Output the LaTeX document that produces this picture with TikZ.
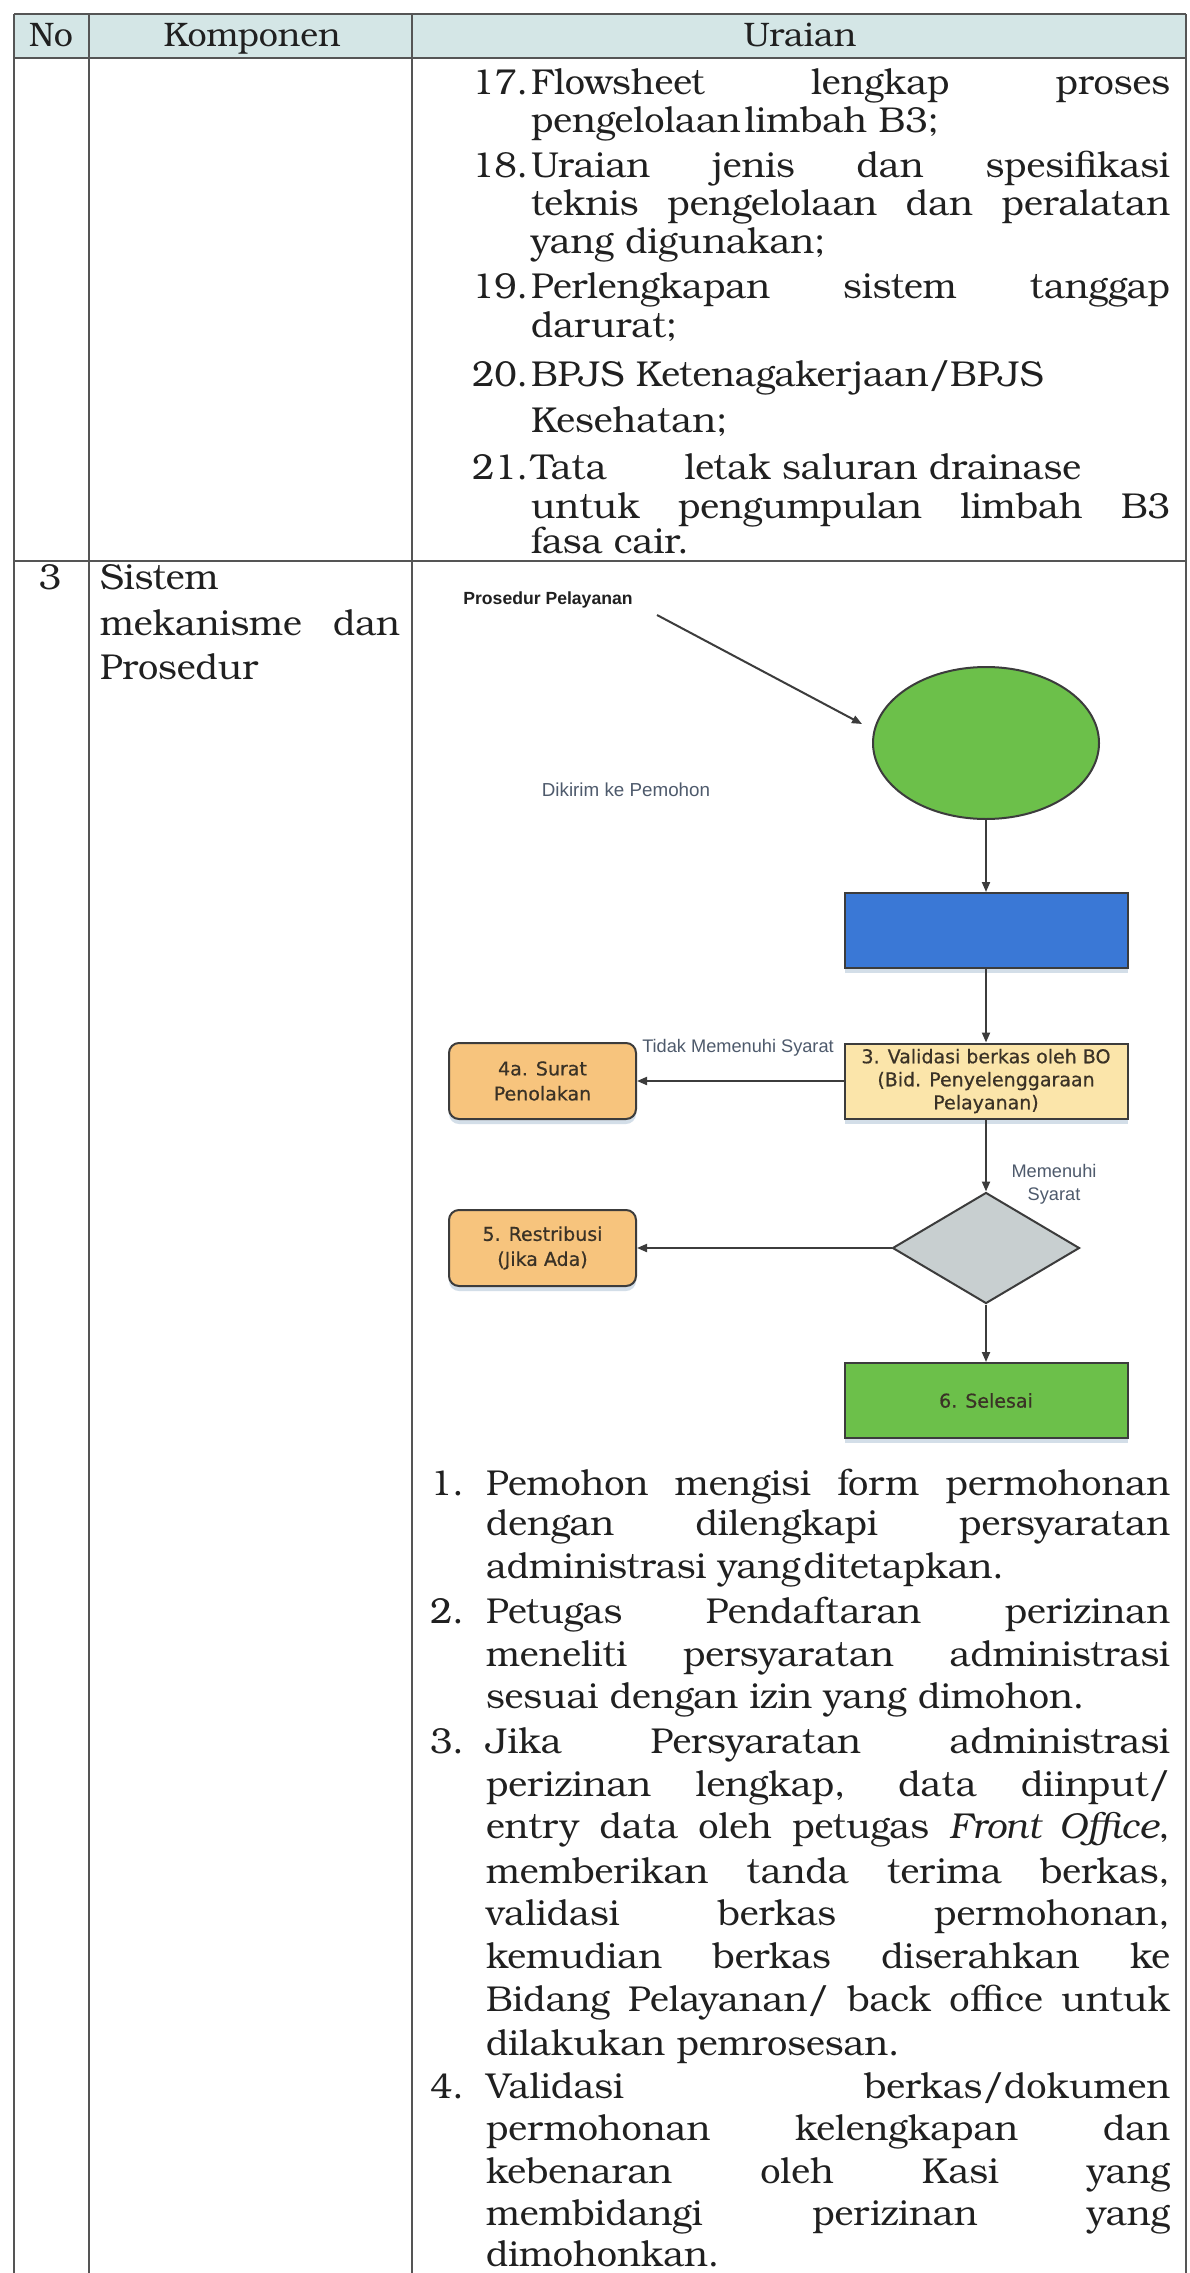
\documentclass[tikz,border=0pt]{standalone}
\usepackage{fontspec}
\setmainfont{texgyrebonum-regular.otf}[BoldFont=texgyrebonum-bold.otf,ItalicFont=texgyrebonum-italic.otf,BoldItalicFont=texgyrebonum-bolditalic.otf]
\newfontfamily\boxfont{DejaVu Sans}[FakeBold=0.6]
\newfontfamily\labfont{Liberation Sans}
\usetikzlibrary{shapes.geometric,arrows.meta,shadows}
\hbadness=10000
\hfuzz=50pt

% one picture unit = one pixel of the page (0.5pt)
\def\pxu{0.5pt}
\newcommand{\jus}[2]{\makebox[\dimexpr#1pt/2\relax][s]{#2}}
\newcommand{\bodysize}{\fontsize{18}{21}\selectfont}

\definecolor{inkc}{RGB}{32,32,32}
\definecolor{tablec}{RGB}{85,85,85}
\definecolor{headc}{RGB}{212,230,230}
\definecolor{edgec}{RGB}{60,60,60}
\definecolor{lgreen}{RGB}{108,192,74}
\definecolor{fblue}{RGB}{58,120,214}
\definecolor{pale}{RGB}{251,229,170}
\definecolor{orng}{RGB}{247,196,125}
\definecolor{dgray}{RGB}{200,207,208}
\definecolor{boxtext}{RGB}{58,50,38}
\definecolor{labc}{RGB}{78,90,108}
\definecolor{shadowc}{RGB}{176,196,214}

\tikzset{
  txt/.style={anchor=base west, inner sep=0, outer sep=0, font=\bodysize, text=inkc},
  hdr/.style={anchor=base, inner sep=0, font=\fontsize{17}{20}\selectfont, text=inkc},
  tline/.style={draw=tablec, line width=0.85pt},
  flow/.style={draw=edgec, line width=1pt, -{Triangle[length=5pt,width=4pt]}},
  shade/.style={drop shadow={shadow xshift=0pt, shadow yshift=-2.5pt, fill=shadowc, opacity=0.55}},
  procbox/.style={rectangle, draw=edgec, line width=1pt, inner sep=0,
    minimum width=283*\pxu, minimum height=75*\pxu, align=center,
    font=\boxfont\fontsize{9.5}{11.5}\selectfont, text=boxtext, shade},
  sidebox/.style={rectangle, rounded corners=5pt, draw=edgec, line width=1pt, inner sep=0,
    minimum width=187*\pxu, minimum height=76*\pxu, align=center, fill=orng,
    font=\boxfont\fontsize{9.5}{12.5}\selectfont, text=boxtext, shade},
  flowlab/.style={inner sep=0, font=\labfont\fontsize{9.1}{11.5}\selectfont, text=labc, align=center}
}

\begin{document}
\begin{tikzpicture}[x=0.5pt, y=-0.5pt]
\useasboundingbox (0,0) rectangle (1189,2273);
\fill[white] (0,0) rectangle (1189,2273);

% ---------- table frame ----------
\fill[headc] (14,14) rectangle (1186,58);
\draw[tline] (14,14) -- (1186,14);
\draw[tline] (14,58) -- (1186,58);
\draw[tline] (14,561) -- (1186,561);
\draw[tline] (14,14) -- (14,2273);
\draw[tline] (89,14) -- (89,2273);
\draw[tline] (412,14) -- (412,2273);
\draw[tline] (1186,14) -- (1186,2273);

\node[hdr] (hno) at (51,47) {No};
\node[hdr] (hkomp) at (252,47) {Komponen};
\node[hdr] (hurai) at (800,47) {Uraian};

% ---------- items 17 - 21 ----------
\node[txt] (n17) at (472,95) {17.};
\node[txt] (l17a) at (531,95) {\jus{639}{Flowsheet lengkap proses}};
\node[txt] (l17b) at (531,133) {pengelolaan\hspace{2pt}limbah B3;};
\node[txt] (n18) at (472,178) {18.};
\node[txt] (l18a) at (531,178) {\jus{639}{Uraian jenis dan spesifikasi}};
\node[txt] (l18b) at (531,216) {\jus{639}{teknis pengelolaan dan peralatan}};
\node[txt] (l18c) at (531,254) {yang digunakan;};
\node[txt] (n19) at (472,299) {19.};
\node[txt] (l19a) at (531,299) {\jus{639}{Perlengkapan sistem tanggap}};
\node[txt] (l19b) at (531,338) {darurat;};
\node[txt] (n20) at (472,387) {20.};
\node[txt] (l20a) at (531,387) {BPJS Ketenagakerjaan/BPJS};
\node[txt] (l20b) at (531,433) {Kesehatan;};
\node[txt] (n21) at (472,480) {21.};
\node[txt] (l21a) at (531,480) {\makebox[\dimexpr550pt/2\relax][s]{Tata\hfill letak saluran drainase}};
\node[txt] (l21b) at (531,518) {\jus{639}{untuk pengumpulan limbah B3}};
\node[txt] (l21c) at (531,553) {fasa cair.};

% ---------- row 3 ----------
\node[txt, anchor=base] (no3) at (50,589) {3};
\node[txt] (k3a) at (100,589) {Sistem};
\node[txt] (k3b) at (100,635) {\jus{300}{mekanisme dan}};
\node[txt] (k3c) at (100,679) {Prosedur};

% ---------- flowchart ----------
\node[inner sep=0, font=\labfont\bfseries\fontsize{8.8}{10}\selectfont, text=inkc] (pp) at (548,600) {Prosedur Pelayanan};
\node[inner sep=0, font=\labfont\fontsize{9.4}{11}\selectfont, text=labc] (dk) at (626,790) {Dikirim ke Pemohon};

\node[ellipse, draw=edgec, fill=lgreen, line width=1pt, inner sep=0,
      minimum width=226*\pxu, minimum height=152*\pxu] (start) at (986,743) {};
\node[procbox, fill=fblue] (reg) at (986,930.5) {};
\node[procbox, fill=pale] (valid) at (986,1081) {3. Validasi berkas oleh BO\\(Bid. Penyelenggaraan\\Pelayanan)};
\node[sidebox] (reject) at (542.5,1081) {4a. Surat\\Penolakan};
\node[diamond, draw=edgec, fill=dgray, line width=1pt, inner sep=0,
      minimum width=187*\pxu, minimum height=111*\pxu] (check) at (986,1248) {};
\node[sidebox] (fee) at (542.5,1248) {5. Restribusi\\(Jika Ada)};
\node[procbox, fill=lgreen] (done) at (986,1400.5) {6. Selesai};

\node[flowlab] (tms) at (738,1048) {Tidak Memenuhi Syarat};
\node[flowlab] (ms) at (1054,1184) {Memenuhi\\Syarat};

\coordinate (ppA) at (657,615);
\coordinate (ppB) at (862,724);
\draw[flow] (ppA) -- (ppB);
\draw[flow] (start.south) -- (reg.north);
\draw[flow] (reg.south) -- (valid.north);
\draw[flow] (valid.west) -- (reject.east);
\draw[flow] (valid.south) -- (check.north);
\draw[flow] (check.west) -- (fee.east);
\draw[flow] (check.south) -- (done.north);

% ---------- steps 1 - 4 ----------
\node[txt] (m1) at (430,1495) {1.};
\node[txt] (p1a) at (486,1495) {\jus{684}{Pemohon mengisi form permohonan}};
\node[txt] (p1b) at (486,1535) {\jus{684}{dengan dilengkapi persyaratan}};
\node[txt] (p1c) at (486,1578) {administrasi yang\hspace{1.5pt}ditetapkan.};
\node[txt] (m2) at (430,1623) {2.};
\node[txt] (p2a) at (486,1623) {\jus{684}{Petugas Pendaftaran perizinan}};
\node[txt] (p2b) at (486,1666) {\jus{684}{meneliti persyaratan administrasi}};
\node[txt] (p2c) at (486,1708) {sesuai dengan izin yang dimohon.};
\node[txt] (m3) at (430,1753) {3.};
\node[txt] (p3a) at (486,1753) {\jus{684}{Jika Persyaratan administrasi}};
\node[txt] (p3b) at (486,1796) {\jus{684}{perizinan lengkap, data diinput/}};
\node[txt] (p3c) at (486,1838) {\jus{684}{entry data oleh petugas \textit{Front Office},}};
\node[txt] (p3d) at (486,1883) {\jus{684}{memberikan tanda terima berkas,}};
\node[txt] (p3e) at (486,1925) {\jus{684}{validasi berkas permohonan,}};
\node[txt] (p3f) at (486,1968) {\jus{684}{kemudian berkas diserahkan ke}};
\node[txt] (p3g) at (486,2011) {\jus{684}{Bidang Pelayanan/ back office untuk}};
\node[txt] (p3h) at (486,2055) {dilakukan pemrosesan.};
\node[txt] (m4) at (430,2098) {4.};
\node[txt] (p4a) at (486,2098) {\jus{684}{Validasi berkas/dokumen}};
\node[txt] (p4b) at (486,2140) {\jus{684}{permohonan kelengkapan dan}};
\node[txt] (p4c) at (486,2183) {\jus{684}{kebenaran oleh Kasi yang}};
\node[txt] (p4d) at (486,2225) {\jus{684}{membidangi perizinan yang}};
\node[txt] (p4e) at (486,2266) {dimohonkan.};
\end{tikzpicture}
\end{document}
